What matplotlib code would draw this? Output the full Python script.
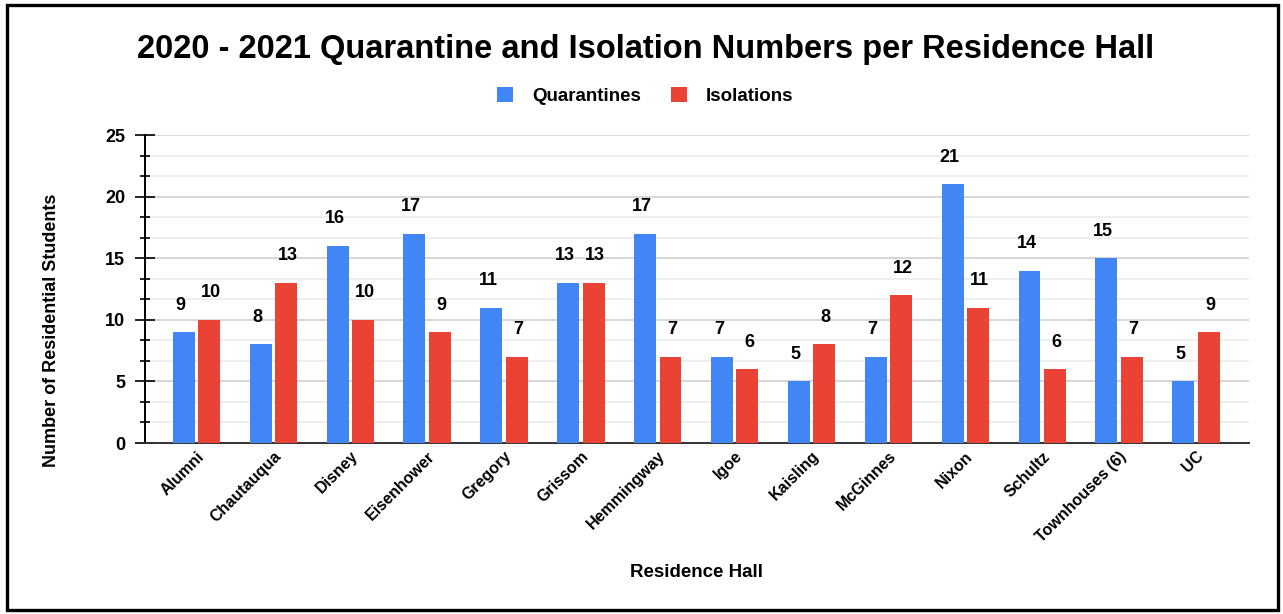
import matplotlib
matplotlib.use("Agg")
import matplotlib.pyplot as plt
import numpy as np
from matplotlib.patches import Rectangle
from matplotlib.ticker import MultipleLocator

plt.rcParams["font.family"] = ["Liberation Sans", "DejaVu Sans"]
plt.rcParams["font.weight"] = "bold"

# data
halls = ["Alumni", "Chautauqua", "Disney", "Eisenhower", "Gregory", "Grissom",
         "Hemmingway", "Igoe", "Kaisling", "McGinnes", "Nixon", "Schultz",
         "Townhouses (6)", "UC"]
quarantines = [9, 8, 16, 17, 11, 13, 17, 7, 5, 7, 21, 14, 15, 5]
isolations = [10, 13, 10, 9, 7, 13, 7, 6, 8, 12, 11, 6, 7, 9]

BLUE = "#4285F4"
RED = "#EA4335"

fig = plt.figure(figsize=(12.83, 6.14), dpi=100)
ax = fig.add_axes([0.113, 0.2785, 0.8605, 0.5015])

x = np.arange(len(halls))
w = 0.285
off = 0.165
b1 = ax.bar(x - off, quarantines, w, color=BLUE, label="Quarantines", zorder=3)
b2 = ax.bar(x + off, isolations, w, color=RED, label="Isolations", zorder=3)

# value labels above bars
for xi, v in zip(x - off, quarantines):
    ax.text(xi - 0.04, v + 2.2, str(v), ha="center", va="center", fontsize=13, fontweight="bold")
for xi, v in zip(x + off, isolations):
    ax.text(xi + 0.02, v + 2.2, str(v), ha="center", va="center", fontsize=13, fontweight="bold")

ax.set_xlim(-0.67, 13.69)
ax.set_ylim(0, 25)
ax.yaxis.set_major_locator(MultipleLocator(5))
ax.yaxis.set_minor_locator(MultipleLocator(5 / 3))
ax.grid(True, which="major", axis="y", color="#cfcfcf", linewidth=1.2, zorder=0)
ax.grid(True, which="minor", axis="y", color="#ebebeb", linewidth=1.2, zorder=0)

for s in ["top", "right"]:
    ax.spines[s].set_visible(False)
ax.spines["left"].set_color("black")
ax.spines["left"].set_linewidth(1.4)
ax.spines["bottom"].set_color("#333333")
ax.spines["bottom"].set_linewidth(1.4)

ax.tick_params(axis="y", which="major", direction="inout", length=14.4, width=1.2,
               pad=7, labelsize=13)
ax.tick_params(axis="y", which="minor", direction="inout", length=7.2, width=1.2)
ax.tick_params(axis="x", length=0, pad=4)
ax.set_xticks(x)
ax.set_xticklabels(halls, rotation=45, ha="right", va="top", rotation_mode="anchor",
                   fontsize=11.5, fontweight="bold")
for lbl in ax.get_yticklabels():
    lbl.set_fontweight("bold")

fig.text(0.503, 0.919, "2020 - 2021 Quarantine and Isolation Numbers per Residence Hall",
         ha="center", va="center", fontsize=23.5, fontweight="bold")
fig.legend(handles=[b1, b2], loc="center", bbox_to_anchor=(0.503, 0.844), ncol=2,
           frameon=False, handlelength=0.85, handleheight=0.85, columnspacing=1.6,
           handletextpad=1.0, prop={"size": 13.5, "weight": "bold"})
fig.text(0.0405, 0.462, "Number of Residential Students", rotation=90,
         ha="center", va="center", fontsize=13, fontweight="bold")
fig.text(0.543, 0.068, "Residence Hall", ha="center", va="center",
         fontsize=13.5, fontweight="bold")

# black frame around the whole picture
fig.patches.append(Rectangle((7 / 1283, 4 / 614), 1271 / 1283, 605 / 614,
                             transform=fig.transFigure, fill=False,
                             edgecolor="black", linewidth=2.4))

fig.savefig("out.png", dpi=100)
